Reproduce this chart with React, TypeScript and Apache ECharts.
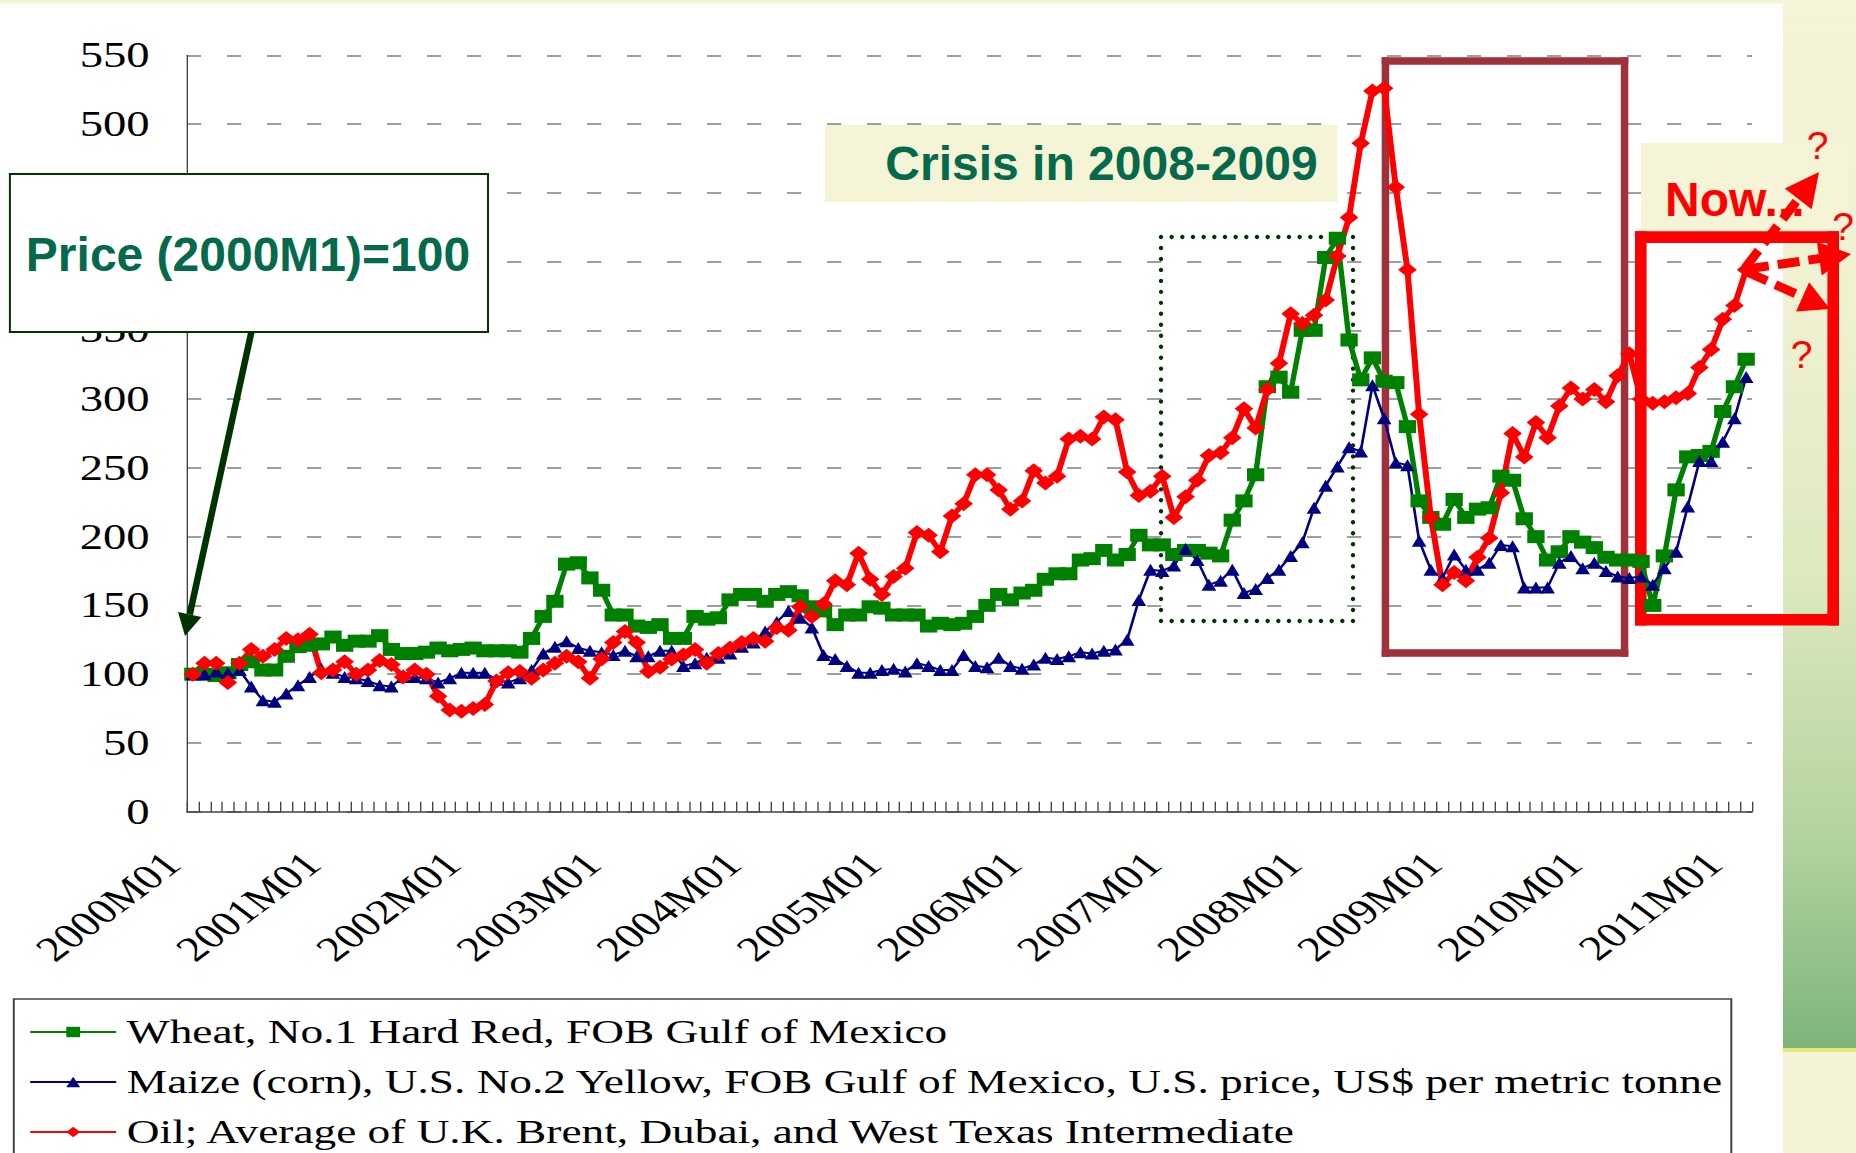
import React, { useEffect, useRef } from "react";
import * as echarts from "echarts";

// The original picture is stretched horizontally by 4/3; the chart is drawn
// in an unstretched frame and stretched with CSS, annotations are compensated.
const K = 4 / 3;
const W = 1856;
const H = 1153;
const CW = W / K; // 1392

const seriesNames = [
  "Wheat, No.1 Hard Red, FOB Gulf of Mexico",
  "Maize (corn), U.S. No.2 Yellow, FOB Gulf of Mexico, U.S. price, US$ per metric tonne",
  "Oil; Average of U.K. Brent, Dubai, and West Texas Intermediate",
];

// months 2000M01 .. 2011M02
const categories: string[] = [];
for (let y = 2000; y <= 2011; y++) {
  for (let m = 1; m <= 12; m++) {
    if (y === 2011 && m > 2) break;
    categories.push(`${y}M${m < 10 ? "0" + m : m}`);
  }
}

const wheat = [
  100, 100, 99, 101, 107, 109, 103, 103, 113, 120, 121, 122,
  127, 121, 124, 124, 128, 118, 115, 115, 116, 119, 117, 118,
  119, 117, 117, 117, 116, 126, 142, 153, 180, 181, 170, 161,
  143, 143, 135, 134, 136, 126, 126, 142, 140, 141, 154, 158,
  158, 153, 158, 160, 157, 149, 146, 136, 143, 143, 149, 148,
  143, 143, 143, 135, 137, 136, 137, 142, 150, 158, 154, 159,
  161, 169, 173, 173, 183, 184, 190, 183, 187, 201, 194, 194,
  187, 190, 190, 188, 186, 212, 226, 245, 309, 316, 305, 350,
  350, 403, 417, 343, 314, 330, 313, 312, 280, 226, 214, 209,
  227, 214, 220, 221, 244, 241, 213, 200, 183, 189, 200, 196,
  192, 185, 183, 183, 182, 150, 186, 234, 258, 259, 262, 291,
  309, 329,
];

const maize = [
  100, 100, 102, 101, 103, 91, 81, 80, 86, 92, 98, 104,
  101, 98, 97, 95, 92, 91, 98, 98, 97, 94, 97, 101,
  101, 101, 96, 94, 97, 103, 115, 120, 124, 119, 117, 116,
  114, 117, 113, 113, 117, 117, 106, 108, 112, 112, 115, 120,
  123, 131, 138, 146, 141, 134, 114, 111, 106, 101, 101, 103,
  104, 102, 108, 106, 103, 103, 114, 106, 105, 112, 106, 104,
  107, 112, 111, 113, 116, 115, 117, 118, 125, 154, 176, 175,
  179, 191, 183, 165, 168, 176, 159, 162, 170, 176, 186, 196,
  221, 237, 251, 265, 262, 310, 286, 254, 252, 197, 176, 170,
  187, 176, 176, 181, 194, 193, 163, 163, 163, 181, 186, 177,
  181, 175, 171, 170, 171, 165, 177, 189, 222, 255, 255, 269,
  286, 316,
];

const oil = [
  100, 108, 108, 94, 108, 118, 113, 118, 126, 125, 129, 101,
  103, 109, 100, 103, 110, 107, 98, 103, 100, 84, 74, 73,
  75, 78, 95, 101, 102, 97, 103, 108, 113, 109, 97, 111,
  123, 131, 123, 102, 105, 111, 114, 118, 108, 115, 119, 123,
  126, 124, 134, 132, 149, 142, 151, 168, 165, 188, 169, 158,
  171, 177, 203, 201, 189, 215, 224, 245, 245, 234, 220, 226,
  248, 239, 244, 271, 273, 271, 287, 285, 247, 230, 233, 244,
  214, 229, 241, 259, 261, 272, 293, 279, 307, 326, 362, 355,
  361, 372, 404, 432, 486, 524, 526, 454, 394, 289, 214, 165,
  174, 168, 185, 199, 232, 275, 258, 283, 272, 295, 308, 300,
  307, 298, 317, 333, 300, 297, 298, 301, 304, 323, 336, 358,
  368, 394,
];

const seriesColors = ["#008000", "#000080", "#ff0000"];
const annotationTexts = ["Price (2000M1)=100", "Crisis in 2008-2009", "Now...", "?"];

// ---------- helpers working in full (stretched) picture coordinates ----------
const ux = (x: number) => x / K;

function rectF(x: number, y: number, w: number, h: number, fill: any, z: number) {
  return { type: "rect", silent: true, z, shape: { x: ux(x), y, width: ux(w), height: h }, style: { fill } };
}

function frameF(x1: number, y1: number, x2: number, y2: number, t: number, color: string, z: number) {
  return [
    rectF(x1, y1, x2 - x1, t, color, z),
    rectF(x1, y2 - t, x2 - x1, t, color, z),
    rectF(x1, y1, t, y2 - y1, color, z),
    rectF(x2 - t, y1, t, y2 - y1, color, z),
  ];
}

function segF(x1: number, y1: number, x2: number, y2: number, w: number, color: string, z: number) {
  const dx = x2 - x1;
  const dy = y2 - y1;
  const len = Math.hypot(dx, dy) || 1;
  const nx = (-dy / len) * (w / 2);
  const ny = (dx / len) * (w / 2);
  return {
    type: "polygon",
    silent: true,
    z,
    shape: {
      points: [
        [ux(x1 + nx), y1 + ny],
        [ux(x2 + nx), y2 + ny],
        [ux(x2 - nx), y2 - ny],
        [ux(x1 - nx), y1 - ny],
      ],
    },
    style: { fill: color },
  };
}

function headF(tx: number, ty: number, fx: number, fy: number, len: number, half: number, color: string, z: number) {
  const dx = tx - fx;
  const dy = ty - fy;
  const l = Math.hypot(dx, dy) || 1;
  const ux1 = dx / l;
  const uy1 = dy / l;
  const bx = tx - ux1 * len;
  const by = ty - uy1 * len;
  const px = -uy1 * half;
  const py = ux1 * half;
  return {
    type: "polygon",
    silent: true,
    z,
    shape: { points: [[ux(tx), ty], [ux(bx + px), by + py], [ux(bx - px), by - py]] },
    style: { fill: color },
  };
}

function dashedArrowF(x1: number, y1: number, tx: number, ty: number, w: number, dash: number, gap: number, headLen: number, half: number, color: string, z: number) {
  const dx = tx - x1;
  const dy = ty - y1;
  const l = Math.hypot(dx, dy);
  const ex = dx / l;
  const ey = dy / l;
  const shaft = l - headLen + 2;
  const out: any[] = [];
  for (let s = 0; s < shaft; s += dash + gap) {
    const e = Math.min(s + dash, shaft);
    out.push(segF(x1 + ex * s, y1 + ey * s, x1 + ex * e, y1 + ey * e, w, color, z));
  }
  out.push(headF(tx, ty, x1, y1, headLen, half, color, z));
  return out;
}

function textF(x: number, y: number, text: string, fontSize: number, fill: string, z: number, align = "center", weight = "bold") {
  return {
    type: "text",
    silent: true,
    z,
    x: ux(x),
    y,
    scaleX: 1 / K,
    style: {
      text,
      fontSize,
      fontWeight: weight,
      fontFamily: "Liberation Sans, Arial, sans-serif",
      fill,
      align,
      verticalAlign: "middle",
    },
  };
}

function dottedBoxF(x1: number, y1: number, x2: number, y2: number, r: number, color: string, z: number) {
  const out: any[] = [];
  const dot = (x: number, y: number) =>
    out.push({ type: "ellipse", silent: true, z, shape: { cx: ux(x), cy: y, rx: ux(r), ry: r }, style: { fill: color } });
  const nh = Math.round((x2 - x1) / 10.8);
  const nv = Math.round((y2 - y1) / 11);
  for (let i = 0; i <= nh; i++) {
    const x = x1 + ((x2 - x1) * i) / nh;
    dot(x, y1);
    dot(x, y2);
  }
  for (let i = 1; i < nv; i++) {
    const y = y1 + ((y2 - y1) * i) / nv;
    dot(x1, y);
    dot(x2, y);
  }
  return out;
}

const CREAM = "#f5f4d6";
const TEAL = "#05694c";
const DARKGREEN = "#003300";

const panelGradient = new echarts.graphic.LinearGradient(0, 0, 0, 1, [
  { offset: 0, color: "#f4f4d8" },
  { offset: 0.3, color: "#eff1d0" },
  { offset: 0.55, color: "#dde9bf" },
  { offset: 0.8, color: "#b3d39e" },
  { offset: 1, color: "#7db57b" },
]);

const graphicElements: any[] = [
  // page decorations
  rectF(0, 0, W, 3.5, CREAM, 0),
  rectF(1783, 0, W - 1783, 1048, panelGradient, 0),
  rectF(1783, 1048, W - 1783, 4, "#e6e874", 0),
  rectF(1783, 1052, W - 1783, H - 1052, "#f3f3d8", 0),
  // "Now" label background
  rectF(1641, 143, 207, 94, CREAM, 1),
  // boxes behind the data
  ...frameF(1381.7, 57.2, 1628.3, 656.7, 7.5, "#a0303a", 1.2),
  ...frameF(1635, 231.3, 1839, 625.5, 11.6, "#ff0000", 1.2),
  ...dottedBoxF(1161, 237, 1353, 621, 2.2, DARKGREEN, 1.2),
  // Crisis label
  rectF(825, 125, 512.5, 77, CREAM, 5),
  textF(1101.5, 163, annotationTexts[1], 48, TEAL, 6),
  // Price label with arrow
  segF(254, 320, 189.75, 614.5, 6.5, DARKGREEN, 9),
  headF(185, 636, 252, 333, 22, 12, DARKGREEN, 9),
  rectF(8.9, 173, 480, 160, "#ffffff", 10),
  ...frameF(8.9, 173, 489, 333, 2, DARKGREEN, 10),
  textF(248, 254, annotationTexts[0], 48, TEAL, 11),
  // Now... with dashed arrows and question marks
  textF(1665, 199, annotationTexts[2], 48, "#ff0000", 11, "left"),
  ...dashedArrowF(1745, 268, 1819, 172, 9, 22, 9, 34, 17, "#ff0000", 12),
  ...dashedArrowF(1747, 269, 1851, 254, 9, 22, 9, 32, 17, "#ff0000", 12),
  ...dashedArrowF(1747, 272, 1830, 309, 9, 22, 9, 30, 16, "#ff0000", 12),
  textF(1817.5, 145, annotationTexts[3], 39, "#ff0000", 12, "center", "normal"),
  textF(1843, 226, annotationTexts[3], 39, "#ff0000", 12, "center", "normal"),
  textF(1801.5, 354, annotationTexts[3], 39, "#ff0000", 12, "center", "normal"),
];

const serif = "Liberation Serif, Times New Roman, serif";

function makeSeries(name: string, data: number[], color: string, symbol: string, symbolSize: any, width: number) {
  return {
    name,
    type: "line",
    data,
    symbol,
    symbolSize,
    showSymbol: true,
    showAllSymbol: true,
    z: 2,
    lineStyle: { color, width },
    itemStyle: { color },
    emphasis: { disabled: true },
  };
}

const option: any = {
  animation: false,
  backgroundColor: "transparent",
  grid: {
    left: 187 / K,
    right: CW - 1752 / K,
    top: 55.3,
    bottom: H - 811.7,
    containLabel: false,
    outerBoundsMode: "none",
  },
  xAxis: {
    type: "category",
    data: categories,
    boundaryGap: true,
    axisLine: { show: true, lineStyle: { color: "#404040", width: 1.5 } },
    axisTick: { show: true, inside: true, length: 10, interval: 0, lineStyle: { color: "#404040", width: 1 } },
    axisLabel: {
      interval: 11,
      rotate: 45,
      margin: 31,
      padding: [0, 22, 0, 0],
      fontFamily: serif,
      fontSize: 35,
      color: "#000",
    },
    splitLine: { show: false },
  },
  yAxis: {
    type: "value",
    min: 0,
    max: 550,
    interval: 50,
    axisLine: { show: true, lineStyle: { color: "#404040", width: 1 } },
    axisTick: { show: false },
    axisLabel: { margin: 28, fontFamily: serif, fontSize: 35, color: "#000" },
    splitLine: { show: true, lineStyle: { color: "#808080", width: 1.5, type: [10.7, 19.3] } },
  },
  legend: {
    orient: "vertical",
    left: 13.8 / K,
    top: 999,
    height: 400,
    data: seriesNames,
    itemWidth: 86 / K,
    itemHeight: 13,
    itemGap: 16,
    padding: [16, 5, 40, 11.3],
    borderColor: "#444",
    borderWidth: 1.5,
    backgroundColor: "#fff",
    selectedMode: false,
    textStyle: { fontFamily: serif, fontSize: 34, color: "#000", padding: [0, 0, 0, 3] },
  },
  series: [
    makeSeries(seriesNames[0], wheat, seriesColors[0], "rect", 13, 4),
    makeSeries(seriesNames[1], maize, seriesColors[1], "triangle", [11, 12], 2),
    makeSeries(seriesNames[2], oil, seriesColors[2], "diamond", [14, 15], 4.5),
  ],
  graphic: { elements: graphicElements },
};

export default function App() {
  const ref = useRef<HTMLDivElement>(null);
  useEffect(() => {
    document.body.style.margin = "0";
    const el = ref.current;
    if (!el) return;
    const chart = echarts.init(el, null, { renderer: "svg", width: CW, height: H });
    chart.setOption(option);
    return () => {
      chart.dispose();
    };
  }, []);
  return (
    <div style={{ position: "fixed", left: 0, top: 0, width: W, height: H, overflow: "hidden", background: "#ffffff" }}>
      <div
        ref={ref}
        style={{ width: CW, height: H, transform: `scaleX(${K})`, transformOrigin: "0 0" }}
      />
    </div>
  );
}
